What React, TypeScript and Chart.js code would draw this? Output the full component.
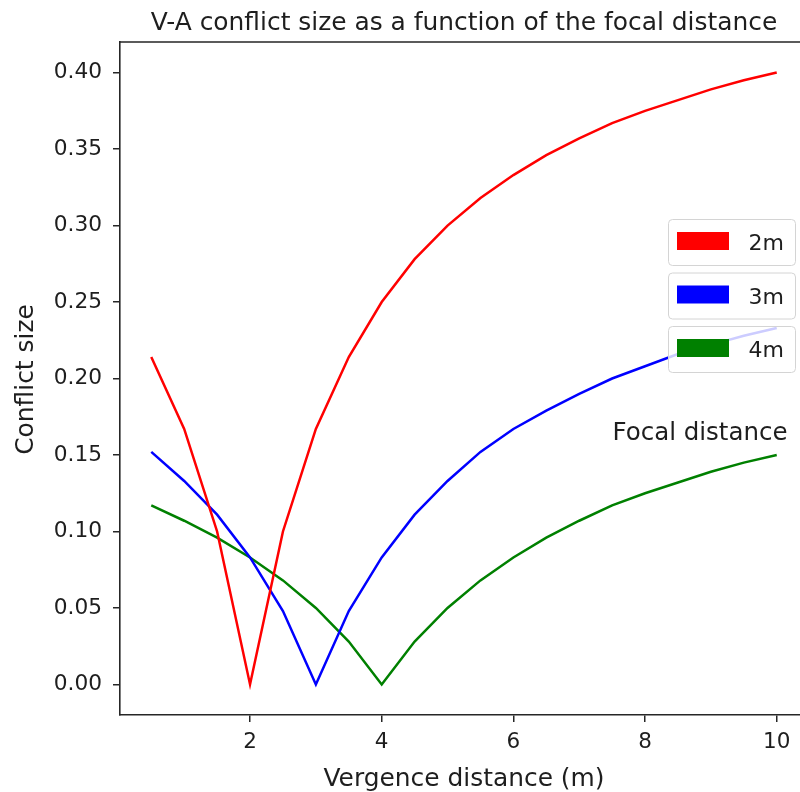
import React, { useEffect, useRef } from "react";
import { Chart, registerables } from "chart.js";

Chart.register(...registerables);

// ---- data ----
const VERGENCE = [0.5, 1, 1.5, 2, 2.5, 3, 3.5, 4, 4.5, 5, 5.5, 6, 6.5, 7, 7.5, 8, 8.5, 9, 9.5, 10];
const FOCAL_2M = [0.214, 0.167, 0.1, 0, 0.1, 0.167, 0.214, 0.25, 0.278, 0.3, 0.318, 0.333, 0.346, 0.357, 0.367, 0.375, 0.382, 0.389, 0.395, 0.4];
const FOCAL_3M = [0.152, 0.133, 0.111, 0.083, 0.048, 0, 0.048, 0.083, 0.111, 0.133, 0.152, 0.167, 0.179, 0.19, 0.2, 0.208, 0.216, 0.222, 0.228, 0.233];
const FOCAL_4M = [0.117, 0.107, 0.096, 0.083, 0.068, 0.05, 0.028, 0, 0.028, 0.05, 0.068, 0.083, 0.096, 0.107, 0.117, 0.125, 0.132, 0.139, 0.145, 0.15];
const SERIES_LABELS = ["2m", "3m", "4m"];
const SERIES_COLORS = ["#ff0000", "#0000ff", "#008000"];
const X_TICKS = [2, 4, 6, 8, 10];
const Y_TICKS = [0, 0.05, 0.1, 0.15, 0.2, 0.25, 0.3, 0.35, 0.4];
const TITLE = "V-A conflict size as a function of the focal distance";
const X_LABEL = "Vergence distance (m)";
const Y_LABEL = "Conflict size";
const LEGEND_TITLE = "Focal distance";

const FONT = "'DejaVu Sans', sans-serif";
const TEXT = "#1e1e1e";
const SPINE = "#262626";

const decorPlugin = {
  id: "decor",
  afterDraw(chart: any) {
    const { ctx, chartArea: a } = chart;
    ctx.save();
    // top & right spines
    ctx.strokeStyle = SPINE;
    ctx.lineWidth = 1.6;
    ctx.beginPath();
    ctx.moveTo(a.left, a.top);
    ctx.lineTo(a.right, a.top);
    ctx.lineTo(a.right, a.bottom);
    ctx.stroke();

    // title and axis labels
    ctx.fillStyle = TEXT;
    ctx.font = `24.9px ${FONT}`;
    ctx.textAlign = "center";
    ctx.textBaseline = "alphabetic";
    const cx = (a.left + a.right) / 2;
    ctx.fillText(TITLE, cx, 29.5);
    ctx.fillText(X_LABEL, cx, 785.5);
    ctx.save();
    ctx.translate(33, (a.top + a.bottom) / 2 + 1);
    ctx.rotate(-Math.PI / 2);
    ctx.fillText(Y_LABEL, 0, 0);
    ctx.restore();

    // legend: one framed box per series
    const boxLeft = 668;
    const boxW = 127;
    const boxH = 46;
    const tops = [219, 272.5, 326];
    SERIES_LABELS.forEach((lab, i) => {
      const top = tops[i];
      ctx.beginPath();
      if (ctx.roundRect) ctx.roundRect(boxLeft + 0.5, top + 0.5, boxW, boxH, 4);
      else ctx.rect(boxLeft + 0.5, top + 0.5, boxW, boxH);
      ctx.fillStyle = "rgba(255,255,255,0.8)";
      ctx.fill();
      ctx.strokeStyle = "#d4d4d4";
      ctx.lineWidth = 1;
      ctx.stroke();
      ctx.fillStyle = SERIES_COLORS[i];
      ctx.fillRect(677, top + 13, 52, 18);
      ctx.fillStyle = TEXT;
      ctx.font = `22px ${FONT}`;
      ctx.textAlign = "right";
      ctx.fillText(lab, 784, top + 31);
    });
    ctx.font = `24.5px ${FONT}`;
    ctx.textAlign = "center";
    ctx.fillText(LEGEND_TITLE, 700, 440);
    ctx.restore();
  },
};

export default function App() {
  const ref = useRef<HTMLCanvasElement | null>(null);

  useEffect(() => {
    if (!ref.current) return;
    const series = [FOCAL_2M, FOCAL_3M, FOCAL_4M];
    const chart = new Chart(ref.current, {
      type: "line",
      data: {
        datasets: series.map((vals, i) => ({
          label: SERIES_LABELS[i],
          data: VERGENCE.map((x, j) => ({ x, y: vals[j] })),
          borderColor: SERIES_COLORS[i],
          backgroundColor: SERIES_COLORS[i],
          borderWidth: 2.5,
          pointRadius: 0,
          tension: 0,
          fill: false,
        })),
      },
      options: {
        animation: false,
        responsive: false,
        layout: { padding: { top: 42, right: 22, left: 0, bottom: 0 } },
        plugins: {
          legend: { display: false },
          title: { display: false },
          tooltip: { enabled: false },
        },
        scales: {
          x: {
            type: "linear",
            min: 0.025,
            max: 10.475,
            afterBuildTicks: (s: any) => {
              s.ticks = X_TICKS.map((v) => ({ value: v }));
            },
            afterFit: (s: any) => {
              s.height = 77;
            },
            ticks: {
              autoSkip: false,
              maxRotation: 0,
              padding: 8,
              color: TEXT,
              font: { family: FONT, size: 21.5 },
              callback: (v: any) => String(v),
            },
            grid: {
              drawOnChartArea: false,
              drawTicks: true,
              tickLength: 7,
              tickColor: SPINE,
              lineWidth: 1.5,
            },
            border: { display: true, color: SPINE, width: 1.6 },
          },
          y: {
            type: "linear",
            min: -0.02,
            max: 0.42,
            afterBuildTicks: (s: any) => {
              s.ticks = Y_TICKS.map((v) => ({ value: v }));
            },
            afterFit: (s: any) => {
              s.width = 120;
            },
            ticks: {
              autoSkip: false,
              padding: 11,
              color: TEXT,
              font: { family: FONT, size: 21.7 },
              callback: (v: any) => Number(v).toFixed(2),
            },
            grid: {
              drawOnChartArea: false,
              drawTicks: true,
              tickLength: 7,
              tickColor: SPINE,
              lineWidth: 1.5,
            },
            border: { display: true, color: SPINE, width: 1.6 },
          },
        },
      },
      plugins: [decorPlugin],
    });
    return () => chart.destroy();
  }, []);

  return (
    <div
      style={{
        position: "fixed",
        left: 0,
        top: 0,
        width: 800,
        height: 792,
        overflow: "hidden",
        background: "#ffffff",
      }}
    >
      <canvas ref={ref} width={830} height={792} style={{ display: "block" }} />
    </div>
  );
}
